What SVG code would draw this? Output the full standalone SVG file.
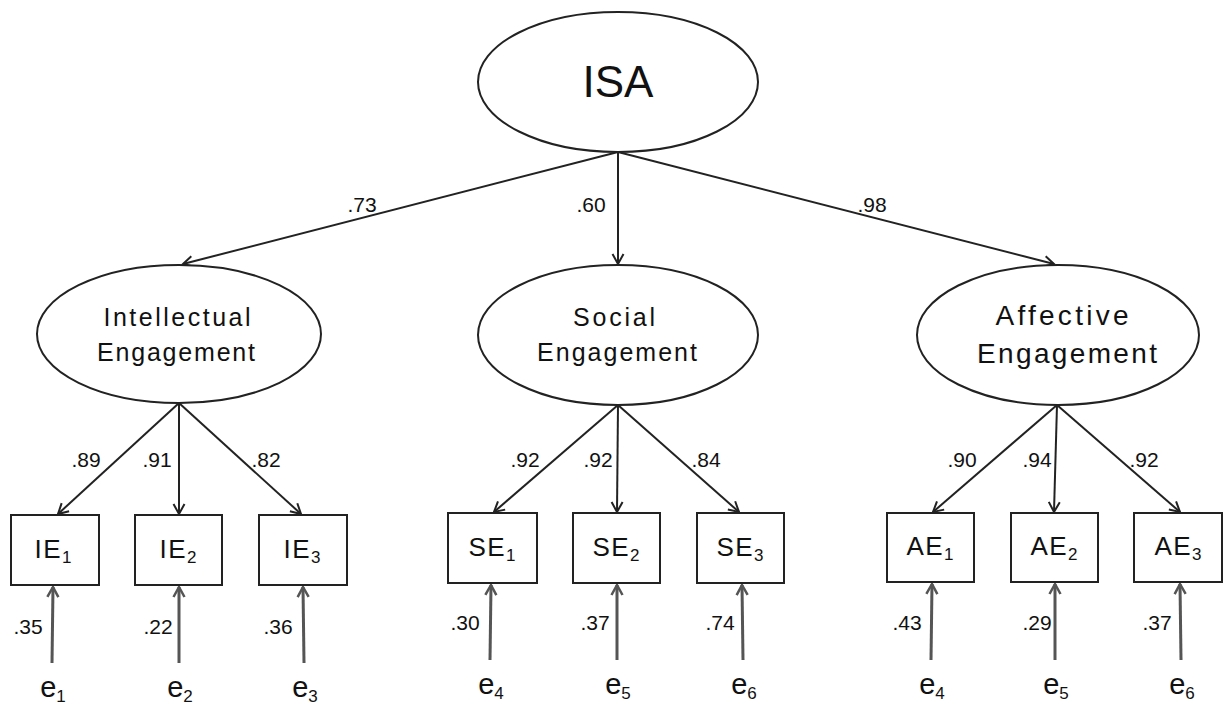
<svg xmlns="http://www.w3.org/2000/svg" width="1224" height="709" viewBox="0 0 1224 709">
<style>
.bg{fill:#fff}
.node{fill:#fff;stroke:#222;stroke-width:2}
.t{font-family:"Liberation Sans",Arial,sans-serif;fill:#111;text-anchor:middle}
.lat{font-size:25px}
.big{font-size:28px}
.obs{font-size:26px;letter-spacing:1.5px}
.num{font-size:21px}
.err{font-size:29px}
.sub{font-size:17px;letter-spacing:0}
.c{fill:none;stroke:#222;stroke-width:2}
.ce{fill:none;stroke:#555;stroke-width:3}
</style>
<defs>
<marker id="ah" markerUnits="userSpaceOnUse" markerWidth="14" markerHeight="14" refX="11" refY="6" orient="auto" viewBox="0 0 14 12">
<path d="M1,0.5 L11,6 L1,11.5" fill="none" stroke="#222" stroke-width="2"/>
</marker>
<marker id="ahe" markerUnits="userSpaceOnUse" markerWidth="14" markerHeight="14" refX="11" refY="6" orient="auto" viewBox="0 0 14 12">
<path d="M1,0.5 L11,6 L1,11.5" fill="none" stroke="#555" stroke-width="2.5"/>
</marker>
</defs>
<rect class="bg" x="0" y="0" width="1224" height="709"/>

<g id="connectors">
<line class="c" x1="618" y1="152" x2="183" y2="264" marker-end="url(#ah)"/>
<line class="c" x1="618" y1="152" x2="618" y2="264" marker-end="url(#ah)"/>
<line class="c" x1="618" y1="152" x2="1054" y2="264" marker-end="url(#ah)"/>

<line class="c" x1="179" y1="403" x2="58" y2="514" marker-end="url(#ah)"/>
<line class="c" x1="179" y1="403" x2="179" y2="514" marker-end="url(#ah)"/>
<line class="c" x1="179" y1="403" x2="301" y2="514" marker-end="url(#ah)"/>

<line class="c" x1="618" y1="405" x2="494" y2="512" marker-end="url(#ah)"/>
<line class="c" x1="618" y1="405" x2="617" y2="512" marker-end="url(#ah)"/>
<line class="c" x1="618" y1="405" x2="739" y2="512" marker-end="url(#ah)"/>

<line class="c" x1="1057" y1="405" x2="933" y2="512" marker-end="url(#ah)"/>
<line class="c" x1="1057" y1="405" x2="1054" y2="512" marker-end="url(#ah)"/>
<line class="c" x1="1057" y1="405" x2="1180" y2="512" marker-end="url(#ah)"/>

<line class="ce" x1="52" y1="663" x2="53" y2="587" marker-end="url(#ahe)"/>
<line class="ce" x1="179" y1="663" x2="179" y2="587" marker-end="url(#ahe)"/>
<line class="ce" x1="304" y1="663" x2="303" y2="587" marker-end="url(#ahe)"/>
<line class="ce" x1="490" y1="660" x2="491" y2="585" marker-end="url(#ahe)"/>
<line class="ce" x1="617" y1="660" x2="617" y2="585" marker-end="url(#ahe)"/>
<line class="ce" x1="743" y1="660" x2="742" y2="585" marker-end="url(#ahe)"/>
<line class="ce" x1="931" y1="660" x2="932" y2="584" marker-end="url(#ahe)"/>
<line class="ce" x1="1055" y1="660" x2="1055" y2="584" marker-end="url(#ahe)"/>
<line class="ce" x1="1181" y1="660" x2="1180" y2="584" marker-end="url(#ahe)"/>

<text class="t num" x="362" y="212">.73</text>
<text class="t num" x="591" y="212">.60</text>
<text class="t num" x="872" y="212">.98</text>

<text class="t num" x="86" y="467">.89</text>
<text class="t num" x="157" y="467">.91</text>
<text class="t num" x="266" y="467">.82</text>
<text class="t num" x="525" y="467">.92</text>
<text class="t num" x="598" y="467">.92</text>
<text class="t num" x="706" y="467">.84</text>
<text class="t num" x="962" y="467">.90</text>
<text class="t num" x="1037" y="467">.94</text>
<text class="t num" x="1144" y="467">.92</text>

<text class="t num" x="28" y="634">.35</text>
<text class="t num" x="158" y="634">.22</text>
<text class="t num" x="278" y="634">.36</text>
<text class="t num" x="465" y="630">.30</text>
<text class="t num" x="595" y="630">.37</text>
<text class="t num" x="720" y="630">.74</text>
<text class="t num" x="907" y="630">.43</text>
<text class="t num" x="1037" y="630">.29</text>
<text class="t num" x="1157" y="630">.37</text>
</g>

<g id="ISA">
<ellipse class="node" cx="618" cy="82" rx="140" ry="70"/>
<text class="t" x="618" y="97" style="font-size:44px">ISA</text>
</g>

<g id="IntellectualEngagement">
<ellipse class="node" cx="179" cy="334" rx="142" ry="69"/>
<text class="t lat" x="177" y="326" textLength="147" lengthAdjust="spacing">Intellectual</text>
<text class="t lat" x="176" y="361" textLength="158" lengthAdjust="spacing">Engagement</text>
</g>

<g id="SocialEngagement">
<ellipse class="node" cx="618" cy="335" rx="140" ry="70"/>
<text class="t lat" x="614" y="326" textLength="82" lengthAdjust="spacing">Social</text>
<text class="t lat" x="617" y="361" textLength="160" lengthAdjust="spacing">Engagement</text>
</g>

<g id="AffectiveEngagement">
<ellipse class="node" cx="1058" cy="335" rx="141" ry="70"/>
<text class="t big" x="1062" y="325" textLength="133" lengthAdjust="spacing">Affective</text>
<text class="t big" x="1067" y="363" textLength="180" lengthAdjust="spacing">Engagement</text>
</g>

<g id="IE1"><rect class="node" x="11" y="515" width="88" height="70"/><text class="t obs" x="53" y="558">IE<tspan class="sub" dy="5">1</tspan></text></g>
<g id="IE2"><rect class="node" x="135" y="515" width="87" height="70"/><text class="t obs" x="178" y="558">IE<tspan class="sub" dy="5">2</tspan></text></g>
<g id="IE3"><rect class="node" x="259" y="515" width="88" height="70"/><text class="t obs" x="302" y="558">IE<tspan class="sub" dy="5">3</tspan></text></g>

<g id="SE1"><rect class="node" x="448" y="513" width="89" height="70"/><text class="t obs" x="492" y="556">SE<tspan class="sub" dy="5">1</tspan></text></g>
<g id="SE2"><rect class="node" x="573" y="513" width="87" height="70"/><text class="t obs" x="616" y="556">SE<tspan class="sub" dy="5">2</tspan></text></g>
<g id="SE3"><rect class="node" x="697" y="513" width="87" height="70"/><text class="t obs" x="740" y="556">SE<tspan class="sub" dy="5">3</tspan></text></g>

<g id="AE1"><rect class="node" x="887" y="513" width="87" height="69"/><text class="t obs" x="930" y="555">AE<tspan class="sub" dy="5">1</tspan></text></g>
<g id="AE2"><rect class="node" x="1011" y="513" width="87" height="69"/><text class="t obs" x="1054" y="555">AE<tspan class="sub" dy="5">2</tspan></text></g>
<g id="AE3"><rect class="node" x="1134" y="513" width="88" height="69"/><text class="t obs" x="1178" y="555">AE<tspan class="sub" dy="5">3</tspan></text></g>

<g id="e1"><text class="t err" x="53" y="697">e<tspan class="sub" dy="5">1</tspan></text></g>
<g id="e2"><text class="t err" x="180" y="697">e<tspan class="sub" dy="5">2</tspan></text></g>
<g id="e3"><text class="t err" x="305" y="697">e<tspan class="sub" dy="5">3</tspan></text></g>
<g id="e4a"><text class="t err" x="491" y="694">e<tspan class="sub" dy="5">4</tspan></text></g>
<g id="e5a"><text class="t err" x="618" y="694">e<tspan class="sub" dy="5">5</tspan></text></g>
<g id="e6a"><text class="t err" x="744" y="694">e<tspan class="sub" dy="5">6</tspan></text></g>
<g id="e4b"><text class="t err" x="932" y="694">e<tspan class="sub" dy="5">4</tspan></text></g>
<g id="e5b"><text class="t err" x="1056" y="694">e<tspan class="sub" dy="5">5</tspan></text></g>
<g id="e6b"><text class="t err" x="1182" y="694">e<tspan class="sub" dy="5">6</tspan></text></g>
</svg>
